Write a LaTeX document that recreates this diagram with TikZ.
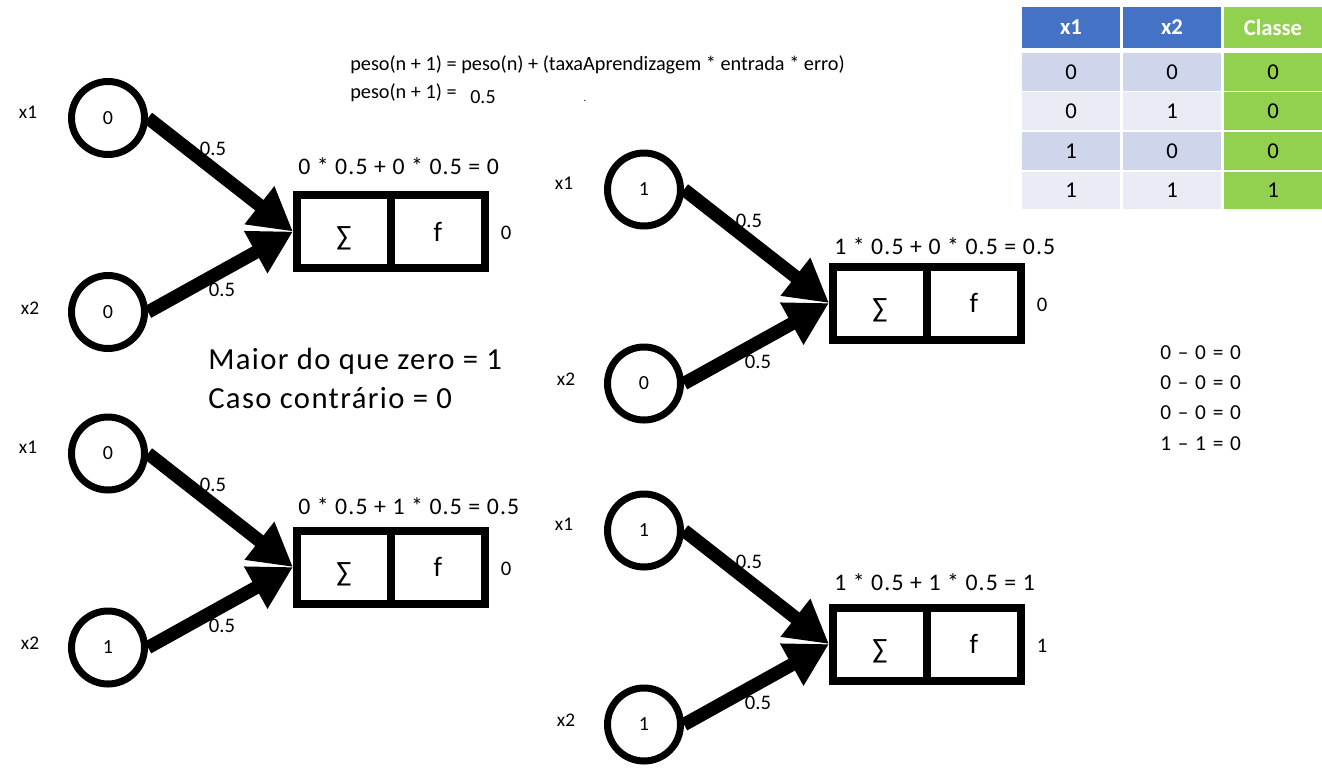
\documentclass[tikz,border=0pt]{standalone}
\usepackage{fontspec}
\setmainfont{Carlito}
\newfontfamily\spA[LetterSpace=5]{Carlito}
\newfontfamily\spB[LetterSpace=4.5]{Carlito}
\newfontfamily\spC[LetterSpace=9]{Carlito}
\usetikzlibrary{arrows.meta}
\definecolor{hdrblue}{HTML}{4472C4}
\definecolor{clsgreen}{HTML}{92D050}
\definecolor{rowA}{HTML}{CFD5EA}
\definecolor{rowB}{HTML}{E9EBF5}
\newcommand\fs[1]{\fontsize{#1}{#1}\selectfont}
\tikzset{
  inp/.style={circle, draw, line width=5.25pt, minimum size=54.75pt, inner sep=0pt, font=\fs{15pt}},
  half/.style={rectangle, draw, line width=6pt, outer sep=0pt, minimum width=70.5pt, minimum height=54.75pt, inner sep=0pt, font=\fs{21pt}},
  sigma/.style={inner sep=0pt, yshift=-5.25pt, font=\fs{21pt}},
  conn/.style={line width=10pt, -{Triangle[length=32pt,width=34pt]}},
  lbl/.style={inner sep=0pt, font=\fs{14.5pt}},
  wlbl/.style={inner sep=0pt, font=\fs{15.5pt}},
  sumtxt/.style={inner sep=0pt, anchor=west, font=\spA\fs{17.8pt}},
  cell/.style={rectangle, inner sep=0pt, outer sep=0pt, minimum width=73.5pt, minimum height=28pt, font=\fs{17pt}},
  hcell/.style={cell, minimum height=30.75pt, text=white, font=\fs{17pt}\bfseries},
  eqn/.style={inner sep=0pt, anchor=west, font=\spC\fs{16pt}},
  big/.style={inner sep=0pt, anchor=west, font=\spB\fs{23pt}},
  frm/.style={inner sep=0pt, anchor=west, font=\fs{15.2pt}}
}
% #1 name, #2 dx, #3 dy, #4 x1, #5 x2, #6 sum text, #7 output, #8 local y of sum text
\newcommand\neuron[8]{%
\begin{scope}[shift={(#2,#3)}]
  \node[inp] (#1a) at (108,118) {#4};
  \node[inp] (#1b) at (108,312) {#5};
  \node[half, anchor=east, label={[sigma]center:∑}] (#1s) at (391,231.5) {};
  \node[half, anchor=west] (#1f) at (391,231.5) {f};
  \coordinate (#1t) at (293,231.5);
  \draw[conn] (#1a.east) -- (#1t);
  \draw[conn] (#1b.east) -- (#1t);
  \node[lbl] (#1x1) at (28,112) {x1};
  \node[lbl] (#1x2) at (30,308) {x2};
  \node[wlbl] (#1w1) at (213,149) {0.5};
  \node[wlbl] (#1w2) at (222,290) {0.5};
  \node[sumtxt] (#1sum) at (298,#8) {#6};
  \node[wlbl] (#1out) at (506,233) {#7};
\end{scope}}
\begin{document}
\begin{tikzpicture}[x=0.75pt,y=-0.75pt]
\useasboundingbox (0,0) rectangle (1322,783);
% formula
\node[frm] (f1) at (350,65) {peso(n + 1) = peso(n) + (taxaAprendizagem * entrada * erro)};
\node[frm] (f2) at (350,93) {peso(n + 1) =};
\node[inner sep=0pt, font=\fs{15pt}] (f3) at (483,97) {0.5};
\node[inner sep=0pt, font=\fs{8pt}] (f4) at (585,101) {.};
% neurons
\neuron{n1}{0}{0}{0}{0}{0 * 0.5 + 0 * 0.5 = 0}{0}{166}
\neuron{n2}{0}{335.5}{0}{1}{0 * 0.5 + 1 * 0.5 = 0.5}{0}{170.5}
\neuron{n3}{536}{71.5}{1}{0}{1 * 0.5 + 0 * 0.5 = 0.5}{0}{174.5}
\neuron{n4}{536}{412.5}{1}{1}{1 * 0.5 + 1 * 0.5 = 1}{1}{169.5}
% rule text
\node[big] (r1) at (208,361) {Maior do que zero = 1};
\node[big] (r2) at (208,398) {Caso contrário = 0};
% errors
\node[eqn] (e1) at (1160,353) {0 – 0 = 0};
\node[eqn] (e2) at (1160,383) {0 – 0 = 0};
\node[eqn] (e3) at (1160,413) {0 – 0 = 0};
\node[eqn] (e4) at (1160,444) {1 – 1 = 0};
% table
\node[hcell, fill=hdrblue] (h1) at (1071,27.5) {x1};
\node[hcell, fill=hdrblue] (h2) at (1172,27.5) {x2};
\node[hcell, fill=clsgreen] (h3) at (1273,27.5) {Classe};
\foreach \r/\y/\a/\b/\c/\col in {1/72/0/0/0/rowA, 2/111/0/1/0/rowB, 3/151/1/0/0/rowA, 4/190.5/1/1/1/rowB}{
  \node[cell, fill=\col] (t\r a) at (1071,\y) {\a};
  \node[cell, fill=\col] (t\r b) at (1172,\y) {\b};
  \node[cell, fill=clsgreen] (t\r c) at (1273,\y) {\c};
}
\end{tikzpicture}
\end{document}
